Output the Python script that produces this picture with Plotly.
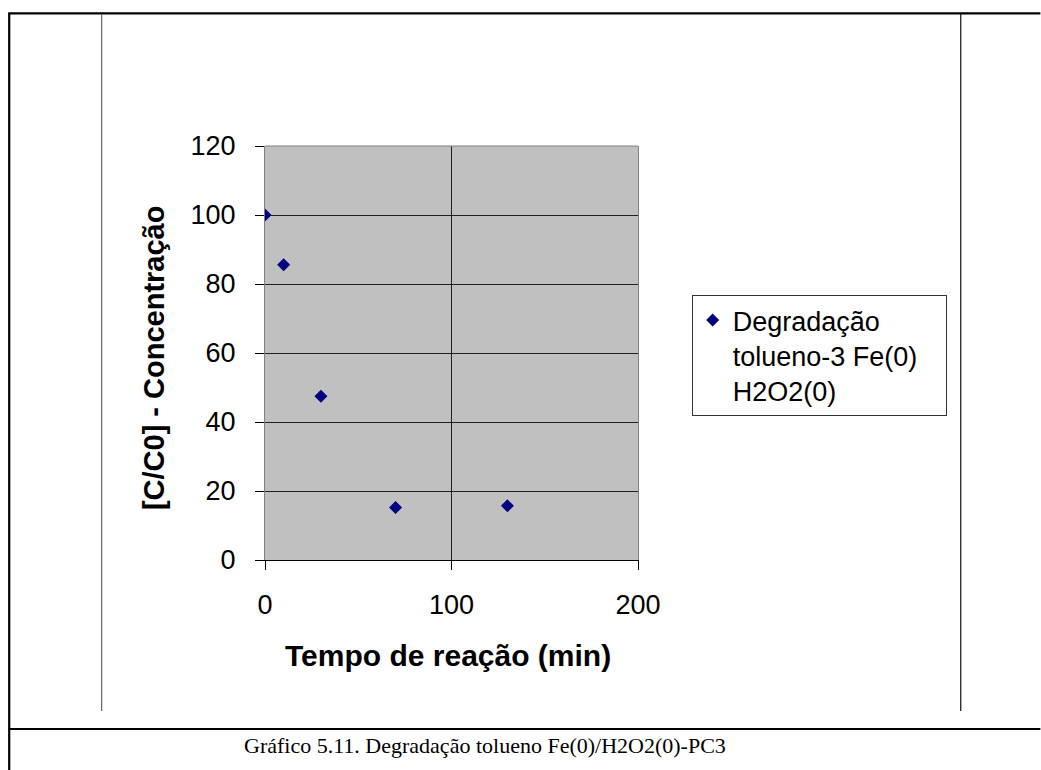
import plotly.graph_objects as go

# Degradation of toluene (run 3, Fe(0) / H2O2(0))
tempo_min = [0, 10, 30, 70, 130]
concentracao = [100, 85.6, 47.5, 15.2, 15.7]

serie_nome = "Degradação<br>tolueno-3 Fe(0)&nbsp;&nbsp;&nbsp;<br>H2O2(0)"
titulo_x = "Tempo de reação (min)"
titulo_y = "[C/C0] - Concentração"
legenda_figura = "Gráfico 5.11. Degradação tolueno Fe(0)/H2O2(0)-PC3"

W, H = 1041, 770
L, R, T, B = 265, 638.3, 146, 560   # plot-area edges in pixels


def px_x(p):
    return (p - L) / (R - L)


def px_y(p):
    return (B - p) / (B - T)


sans = "Liberation Sans, Arial, sans-serif"
serif = "Liberation Serif, Times New Roman, serif"

fig = go.Figure()
fig.add_trace(go.Scatter(
    x=tempo_min, y=concentracao, mode="markers", name=serie_nome,
    marker=dict(symbol="diamond", size=10, color="#000080", line=dict(width=0)),
))

fig.update_layout(
    width=W, height=H,
    margin=dict(l=L, r=W - R, t=T, b=H - B, pad=0),
    paper_bgcolor="white",
    plot_bgcolor="#C0C0C0",
    font=dict(family=sans, color="black"),
    showlegend=True,
    legend=dict(
        x=px_x(692), y=px_y(295), xanchor="left", yanchor="top",
        bgcolor="white", bordercolor="#333333", borderwidth=1,
        font=dict(family=sans, size=27, color="black"),
        valign="top", itemwidth=30,
    ),
    xaxis=dict(
        range=[0, 200], dtick=100, tick0=0,
        showgrid=True, gridcolor="#202020", gridwidth=1,
        zeroline=False, showline=True, linecolor="black", linewidth=1,
        ticks="outside", ticklen=9, tickcolor="black",
        tickfont=dict(family=sans, size=27), ticklabelstandoff=12,
        fixedrange=True,
    ),
    yaxis=dict(
        range=[0, 120], dtick=20, tick0=0,
        showgrid=True, gridcolor="#202020", gridwidth=1,
        zeroline=False, showline=True, linecolor="#808080", linewidth=1, mirror=True,
        ticks="outside", ticklen=9, tickcolor="black",
        tickfont=dict(family=sans, size=27), ticklabelstandoff=14,
        fixedrange=True,
    ),
)

# axis titles
fig.add_annotation(text=titulo_x, x=px_x(448), y=px_y(655), xref="paper", yref="paper",
                   showarrow=False, xanchor="center", yanchor="middle",
                   font=dict(family=sans, size=30, color="black", weight="bold"))
fig.add_annotation(text=titulo_y, x=px_x(154), y=px_y(358), xref="paper", yref="paper",
                   showarrow=False, xanchor="center", yanchor="middle", textangle=-90,
                   font=dict(family=sans, size=29, color="black", weight="bold"))

# caption below the chart
fig.add_annotation(text=legenda_figura, x=px_x(485), y=px_y(745), xref="paper", yref="paper",
                   showarrow=False, xanchor="center", yanchor="middle",
                   font=dict(family=serif, size=22, color="black"))

# top border of the plot area
fig.add_shape(type="line", xref="paper", yref="paper", x0=0, x1=1, y0=1, y1=1,
              line=dict(color="#808080", width=1))

# document table rules and the chart frame
rules = [
    (8, 13.3, W, 13.3, "black", 2.2),      # table top
    (9, 13, 9, H, "black", 2.2),           # table left
    (8, 729, W, 729, "black", 2.2),        # rule above the caption
    (101.5, 14, 101.5, 711, "#707070", 1.3),  # chart frame left
    (961.3, 14, 961.3, 711, "#202020", 1.3),  # chart frame right
]
for x0, y0, x1, y1, c, w in rules:
    fig.add_shape(type="line", xref="paper", yref="paper",
                  x0=px_x(x0), y0=px_y(y0), x1=px_x(x1), y1=px_y(y1),
                  line=dict(color=c, width=w))

fig.write_html("out.html")
